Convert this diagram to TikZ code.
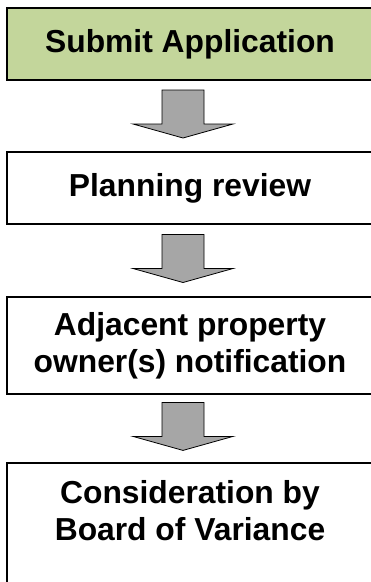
\documentclass[tikz,border=0pt]{standalone}
\usepackage{fontspec}
\setmainfont{Liberation Sans}
\usepackage{tikz}
\usetikzlibrary{
	positioning,
	calc
}
\definecolor{submitgreen}{HTML}{C3D69B}
\definecolor{arrowgray}{HTML}{A6A6A6}

\begin{document}
\begin{tikzpicture}[x=1pt,y=-1pt,
	stage/.style={draw=black,line width=1.6pt,minimum width=366pt,inner sep=0pt,align=center,
		font=\bfseries\fontsize{31.8}{37}\selectfont},
	downarrow/.pic={\draw[fill=arrowgray,line width=0.8pt,line join=miter]
		(-21,-24) -- (21,-24) -- (21,10) -- (50,10) -- (0,24) -- (-50,10) -- (-21,10) -- cycle;}
]
	\useasboundingbox (0,0) rectangle (371,582);
	\clip (0,0) rectangle (371,582);
	\draw
		node [stage,fill=submitgreen,minimum height=72pt] (submit) at (190,44)    {Submit Application}
		node [stage,minimum height=72pt]                  (review) at (190,188)   {Planning review}
		node [stage,minimum height=97pt]                  (notify) at (190,345.5) {Adjacent property\\owner(s) notification}
		node [stage,anchor=north,minimum height=150pt,inner ysep=18pt] (board) at (190,462)
			{\parbox[c][114pt][t]{350pt}{\centering Consideration by\\Board of Variance}}
	;
	% block arrows between the stages
	\foreach \a/\b in {submit/review,review/notify,notify/board}
		\pic at ($(\a.south)!.5!(\b.north)+(-7,-2)$) {downarrow};
\end{tikzpicture}
\end{document}
